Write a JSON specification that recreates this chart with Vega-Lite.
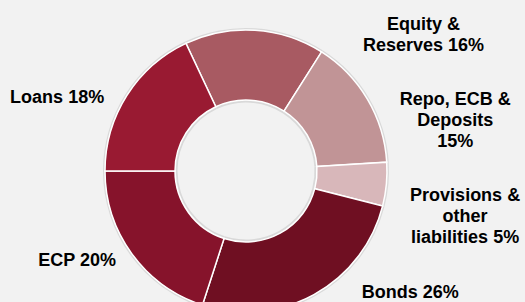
{
  "$schema": "https://vega.github.io/schema/vega-lite/v6.json",
  "width": 492,
  "height": 262,
  "autosize": {"type": "none"},
  "padding": {"left": 0, "top": 40, "right": 33, "bottom": 0},
  "background": "#f2f2f2",
  "config": {"view": {"stroke": null}},
  "data": {
    "values": [
      {"item": "Equity & Reserves", "share": 16, "order": 1, "label": "Equity &\nReserves 16%"},
      {"item": "Repo, ECB & Deposits", "share": 15, "order": 2, "label": "Repo, ECB &\nDeposits\n15%"},
      {"item": "Provisions & other liabilities", "share": 5, "order": 3, "label": "Provisions &\nother\nliabilities 5%"},
      {"item": "Bonds", "share": 26, "order": 4, "label": "Bonds 26%"},
      {"item": "ECP", "share": 20, "order": 5, "label": "ECP 20%"},
      {"item": "Loans", "share": 18, "order": 6, "label": "Loans 18%"}
    ]
  },
  "encoding": {
    "theta": {"field": "share", "type": "quantitative", "stack": true, "scale": {"range": [-0.43982, 5.84336]}},
    "order": {"field": "order", "type": "quantitative"}
  },
  "layer": [
    {
      "mark": {"type": "arc", "innerRadius": 68.5, "outerRadius": 143, "color": "#d9d9d9", "strokeWidth": 0}
    },
    {
      "mark": {"type": "arc", "innerRadius": 71, "outerRadius": 141, "stroke": "white", "strokeWidth": 1.5},
      "encoding": {
        "color": {
          "field": "item",
          "type": "nominal",
          "scale": {
            "domain": ["Equity & Reserves", "Repo, ECB & Deposits", "Provisions & other liabilities", "Bonds", "ECP", "Loans"],
            "range": ["#a85a62", "#c19496", "#d8b7ba", "#6f0f22", "#86132b", "#991a32"]
          },
          "legend": null
        }
      }
    },
    {
      "mark": {
        "type": "text",
        "radius": 200,
        "font": "Liberation Sans",
        "fontWeight": "bold",
        "fontSize": 18,
        "lineBreak": "\n",
        "lineHeight": 21,
        "align": "center",
        "baseline": "middle",
        "color": "#000000",
        "dx": {"expr": "datum.item === 'Equity & Reserves' ? 165 : datum.item === 'Repo, ECB & Deposits' ? 37 : datum.item === 'Provisions & other liabilities' ? 20 : datum.item === 'Bonds' ? 68 : datum.item === 'ECP' ? -7 : -20"},
        "dy": {"expr": "datum.item === 'Equity & Reserves' ? 54 : datum.item === 'Repo, ECB & Deposits' ? 31 : datum.item === 'Provisions & other liabilities' ? 6 : datum.item === 'Bonds' ? -53 : datum.item === 'ECP' ? -28 : 34"}
      },
      "encoding": {"text": {"field": "label"}}
    }
  ]
}
